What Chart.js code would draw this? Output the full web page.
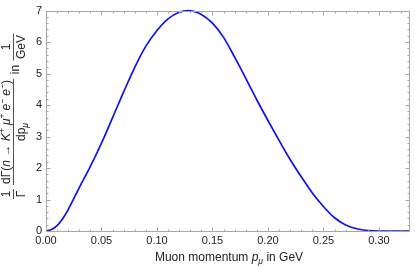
<!DOCTYPE html>
<html>
<head>
<meta charset="utf-8">
<script src="https://cdn.jsdelivr.net/npm/chart.js@4.4.1/dist/chart.umd.min.js"></script>
<style>
  html, body { margin: 0; padding: 0; background: #fff; }
  #wrap { width: 415px; height: 269px; }
</style>
</head>
<body>
<div id="wrap"><canvas id="spectrumChart"></canvas></div>
<script>
// muon momentum (GeV) and normalised differential rate (1/GeV)
const momentum = [0, 0.005, 0.01, 0.015, 0.02, 0.03, 0.04, 0.05, 0.06, 0.07, 0.08, 0.09, 0.10, 0.11, 0.12, 0.128,
                  0.14, 0.15, 0.16, 0.17, 0.18, 0.19, 0.20, 0.21, 0.22, 0.23, 0.24, 0.25, 0.26, 0.27, 0.28,
                  0.29, 0.30, 0.31, 0.32, 0.328];
const rate = [0, 0.045, 0.17, 0.39, 0.68, 1.38, 2.05, 2.79, 3.6, 4.42, 5.2, 5.87, 6.37, 6.74, 6.95, 7.0,
              6.88, 6.6, 6.15, 5.52, 4.85, 4.16, 3.51, 2.88, 2.27, 1.72, 1.21, 0.78, 0.42, 0.19, 0.07,
              0.015, 0, 0, 0, 0];
const xTicks = [0, 0.05, 0.10, 0.15, 0.20, 0.25, 0.30];
const yTicks = [0, 1, 2, 3, 4, 5, 6, 7];

const FONT = '"Liberation Sans", Arial, sans-serif';
const frameColor = '#a6a6a6';

// draws a row of text pieces (plain / italic / super / sub / gap) centred on cx, baseline y
function drawRuns(ctx, runs, cx, y, size) {
  let total = 0;
  const fontOf = r => (r.i ? 'italic ' : '') + ((r.sup || r.sub) ? size * 0.72 : size) + 'px ' + FONT;
  runs.forEach(r => {
    if (r.gap) { r.w = r.gap; } else { ctx.font = fontOf(r); r.w = ctx.measureText(r.t).width; }
    total += r.w;
  });
  let x = cx - total / 2;
  runs.forEach(r => {
    if (!r.gap) {
      ctx.font = fontOf(r);
      const dy = r.sup ? -size * 0.38 : (r.sub ? size * 0.28 : 0);
      ctx.fillText(r.t, x, y + dy);
    }
    x += r.w;
  });
  return total;
}

const framePlugin = {
  id: 'frame',
  afterDatasetsDraw(chart) {
    const { ctx, chartArea: a, scales } = chart;
    const L = Math.round(a.left) + 0.5, R = Math.round(a.right) - 0.5;
    const T = Math.round(a.top) + 0.5, B = Math.round(a.bottom) + 0.5;
    ctx.save();
    ctx.strokeStyle = frameColor;
    ctx.lineWidth = 1;
    ctx.beginPath();
    // minor + major ticks on x (bottom and top), pointing inwards
    for (let k = 0; k <= 32; k++) {
      const px = Math.round(scales.x.getPixelForValue(k / 100)) + 0.5;
      const len = (k % 5 === 0) ? 4 : 2;
      ctx.moveTo(px, B); ctx.lineTo(px, B - len);
      ctx.moveTo(px, T); ctx.lineTo(px, T + len);
    }
    // minor + major ticks on y (left and right)
    for (let k = 0; k <= 35; k++) {
      const py = Math.round(scales.y.getPixelForValue(k / 5)) + 0.5;
      const len = (k % 5 === 0) ? 4 : 2;
      ctx.moveTo(L, py); ctx.lineTo(L + len, py);
      ctx.moveTo(R, py); ctx.lineTo(R - len, py);
    }
    ctx.stroke();
    ctx.strokeRect(L, T, R - L, B - T);
    ctx.restore();
  },
  afterDraw(chart) {
    const { ctx, chartArea: a, height } = chart;
    const size = 12;
    ctx.save();
    ctx.fillStyle = '#222';
    ctx.strokeStyle = '#222';
    ctx.lineWidth = 0.8;

    // x axis title
    drawRuns(ctx, [
      { t: 'Muon momentum ' }, { t: 'p', i: true }, { t: 'μ', i: true, sub: true }, { t: ' in GeV' }
    ], (a.left + a.right) / 2 + 1, 261, size);

    // y axis title, rotated; local x runs upward, local y runs to the right
    ctx.translate(0, height);
    ctx.rotate(-Math.PI / 2);
    const u = sy => height - sy;
    const numBase = 10, barV = 13.5, denBase = 25;

    // 1 / Γ
    drawRuns(ctx, [{ t: '1' }], u(194), numBase, size);
    drawRuns(ctx, [{ t: 'Γ' }], u(194), denBase, size);
    ctx.beginPath(); ctx.moveTo(u(199), barV); ctx.lineTo(u(189), barV); ctx.stroke();

    // dΓ(...) / dp_μ
    const w = drawRuns(ctx, [
      { t: 'dΓ(' }, { t: 'n', i: true }, { gap: 3.5 }, { t: '→' }, { gap: 3.5 }, { t: 'K', i: true }, { t: '+', sup: true },
      { gap: 3 }, { t: 'μ', i: true }, { t: '+', sup: true }, { gap: 3 }, { t: 'e', i: true }, { t: '−', sup: true },
      { gap: 3 }, { t: 'e', i: true }, { t: '−', sup: true }, { t: ')' }
    ], u(132), numBase, size);
    drawRuns(ctx, [{ t: 'dp' }, { t: 'μ', i: true, sub: true }], u(132), denBase, size);
    ctx.beginPath(); ctx.moveTo(u(132) - w / 2 - 1, barV); ctx.lineTo(u(132) + w / 2 + 1, barV); ctx.stroke();

    // in
    drawRuns(ctx, [{ t: 'in' }], u(69.5), 19, size);

    // 1 / GeV
    drawRuns(ctx, [{ t: '1' }], u(47), numBase, size);
    const g = drawRuns(ctx, [{ t: 'GeV' }], u(47), denBase, size);
    ctx.beginPath(); ctx.moveTo(u(47) - g / 2 - 1.5, barV); ctx.lineTo(u(47) + g / 2 + 1.5, barV); ctx.stroke();

    ctx.restore();
  }
};

const points = momentum.map((p, i) => ({ x: p, y: rate[i] }));

const config = {
  type: 'line',
  data: {
    datasets: [{
      data: points,
      borderColor: '#1010f0',
      borderWidth: 1.7,
      pointRadius: 0,
      fill: false,
      cubicInterpolationMode: 'monotone',
      clip: 4
    }]
  },
  options: {
    responsive: false,
    animation: false,
    devicePixelRatio: 1,
    layout: { padding: { left: 0, right: 5, top: 6, bottom: 0 } },
    plugins: { legend: { display: false }, tooltip: { enabled: false } },
    scales: {
      x: {
        type: 'linear',
        min: 0,
        max: 0.328,
        afterFit: s => { s.height = 38; },
        afterBuildTicks: s => { s.ticks = xTicks.map(v => ({ value: v })); },
        grid: { display: false, drawTicks: false },
        border: { display: false },
        ticks: {
          padding: 3,
          maxRotation: 0,
          color: '#222',
          font: { family: FONT, size: 11 },
          callback: v => Number(v).toFixed(2)
        }
      },
      y: {
        min: 0,
        max: 7,
        afterFit: s => { s.width = 46; },
        afterBuildTicks: s => { s.ticks = yTicks.map(v => ({ value: v })); },
        grid: { display: false, drawTicks: false },
        border: { display: false },
        ticks: {
          padding: 4,
          color: '#222',
          font: { family: FONT, size: 11 }
        }
      }
    }
  },
  plugins: [framePlugin]
};

const canvas = document.getElementById('spectrumChart');
canvas.width = 415;
canvas.height = 269;
const spectrumChart = new Chart(canvas.getContext('2d'), config);
</script>
</body>
</html>
